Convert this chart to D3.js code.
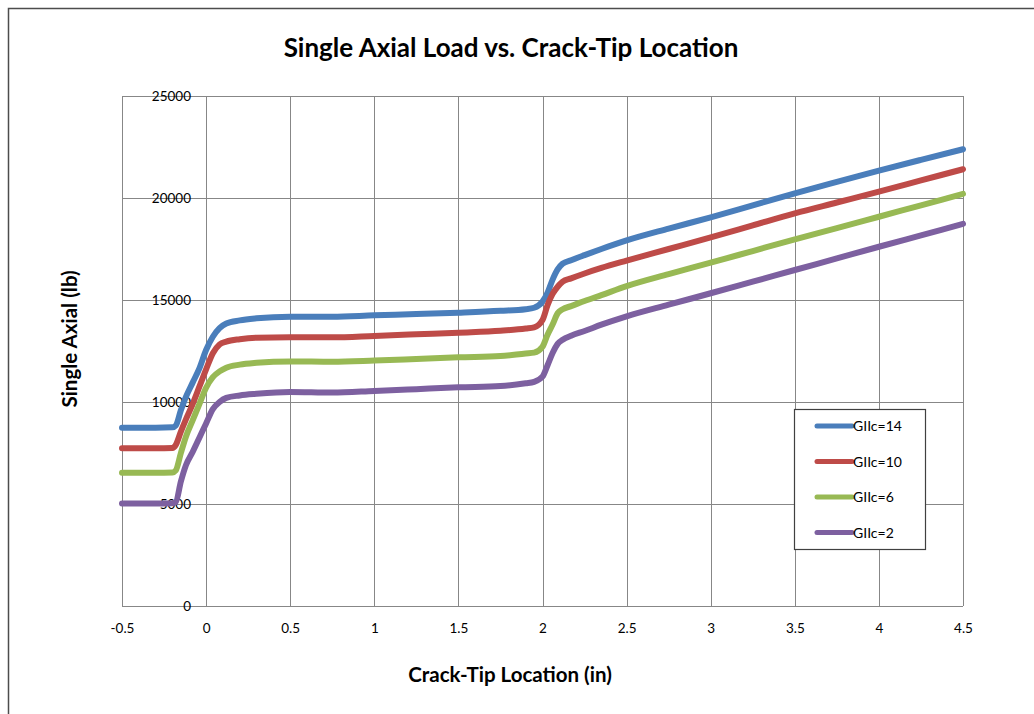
<!DOCTYPE html>
<html>
<head>
<meta charset="utf-8">
<script src="https://cdn.jsdelivr.net/npm/d3@7"></script>
<style>
  body { margin: 0; background: #fff; }
  text { font-family: Lato, "Open Sans", sans-serif; fill: #000; }
</style>
</head>
<body>
<svg id="chart"></svg>
<script>
// crack-tip location (in)
const xs = [-0.5, -0.3, -0.2, -0.18, -0.15, -0.12, -0.08, -0.04, 0, 0.04, 0.08, 0.12, 0.2, 0.3,
            0.5, 0.75, 1, 1.25, 1.5, 1.75, 1.9, 1.95, 2.0, 2.03, 2.06, 2.09, 2.12, 2.17, 2.25, 2.35,
            2.5, 2.75, 3, 3.25, 3.5, 3.75, 4, 4.25, 4.5];

const giic14 = [8740, 8740, 8760, 8850, 9600, 10250, 10950, 11650, 12550, 13200, 13620, 13850, 14000, 14100,
                14180, 14180, 14250, 14310, 14380, 14470, 14550, 14620, 14920, 15350, 16000, 16500, 16780, 16950, 17200, 17500,
                17920, 18500, 19050, 19640, 20230, 20790, 21340, 21870, 22390];
const giic10 = [7730, 7730, 7750, 7900, 8550, 9150, 9900, 10750, 11600, 12390, 12820, 12960, 13080, 13150,
                13170, 13170, 13240, 13320, 13400, 13490, 13600, 13660, 14020, 14750, 15300, 15650, 15900, 16060, 16300, 16570,
                16930, 17500, 18070, 18660, 19250, 19780, 20310, 20860, 21410];
const giic6  = [6530, 6530, 6550, 6650, 7500, 8300, 9100, 9900, 10700, 11220, 11500, 11680, 11830, 11920,
                11990, 11970, 12030, 12110, 12190, 12250, 12380, 12420, 12710, 13300, 13800, 14350, 14550, 14700, 14950, 15240,
                15680, 16270, 16830, 17400, 17970, 18520, 19080, 19640, 20200];
const giic2  = [5030, 5030, 5040, 5100, 6100, 6900, 7550, 8250, 8950, 9650, 10000, 10200, 10320, 10400,
                10490, 10460, 10540, 10630, 10720, 10780, 10920, 10990, 11240, 11800, 12400, 12850, 13050, 13250, 13480, 13790,
                14200, 14770, 15330, 15900, 16470, 17040, 17610, 18170, 18730];

const seriesNames = ["GIIc=14", "GIIc=10", "GIIc=6", "GIIc=2"];
const seriesColors = ["#4a7ebb", "#be4b48", "#98b954", "#7d60a0"];
const xTicks = [-0.5, 0, 0.5, 1, 1.5, 2, 2.5, 3, 3.5, 4, 4.5];
const yTicks = [0, 5000, 10000, 15000, 20000, 25000];

const series = [giic14, giic10, giic6, giic2].map((vals, i) => ({
    name: seriesNames[i],
    color: seriesColors[i],
    values: vals.map((v, j) => ({ x: xs[j], y: v }))
}));

const W = 1034, H = 714;
const margin = { top: 96, right: 71, bottom: 108, left: 122 },
      width = W - margin.left - margin.right,
      height = H - margin.top - margin.bottom;

const root = d3.select("#chart").attr("width", W).attr("height", H);

// outer chart border (only top/left visible in the picture)
root.append("rect")
    .attr("x", 8.5).attr("y", 8.5)
    .attr("width", W + 20).attr("height", H + 20)
    .attr("fill", "none")
    .attr("stroke", "#4d4d4d")
    .attr("stroke-width", 1.5);

const svg = root.append("g")
    .attr("transform", `translate(${margin.left},${margin.top})`);

const xScale = d3.scaleLinear().domain([-0.5, 4.5]).range([0, width]);
const yScale = d3.scaleLinear().domain([0, 25000]).range([height, 0]);

// gridlines
svg.append("g").selectAll("line")
    .data(xTicks)
    .enter().append("line")
    .attr("x1", d => Math.round(xScale(d)) + 0.5)
    .attr("x2", d => Math.round(xScale(d)) + 0.5)
    .attr("y1", 0).attr("y2", height)
    .attr("stroke", "#878787");

svg.append("g").selectAll("line")
    .data(yTicks)
    .enter().append("line")
    .attr("y1", d => Math.round(yScale(d)) + 0.5)
    .attr("y2", d => Math.round(yScale(d)) + 0.5)
    .attr("x1", 0).attr("x2", width)
    .attr("stroke", "#878787");

// axes
const yAxis = svg.append("g")
    .call(d3.axisLeft(yScale).tickValues(yTicks).tickSize(0).tickPadding(-69).tickFormat(d3.format("d")));
yAxis.select(".domain").remove();
yAxis.selectAll("text")
    .style("font-size", "13.5px")
    .style("font-family", "Lato, sans-serif");

const xAxis = svg.append("g")
    .attr("transform", `translate(0,${height})`)
    .call(d3.axisBottom(xScale).tickValues(xTicks).tickSize(0).tickPadding(17).tickFormat(d => d));
xAxis.select(".domain").remove();
xAxis.selectAll("text")
    .style("font-size", "13.5px")
    .style("font-family", "Lato, sans-serif");

// lines
const line = d3.line()
    .x(d => xScale(d.x))
    .y(d => yScale(d.y))
    .curve(d3.curveMonotoneX);

svg.selectAll(".series")
    .data(series)
    .enter().append("path")
    .attr("class", "series")
    .attr("d", d => line(d.values))
    .attr("fill", "none")
    .attr("stroke", d => d.color)
    .attr("stroke-width", 6)
    .attr("stroke-linecap", "round")
    .attr("stroke-linejoin", "round");

// titles
root.append("text")
    .attr("x", 511).attr("y", 57)
    .attr("text-anchor", "middle")
    .style("font-size", "26px")
    .style("font-weight", "bold")
    .text("Single Axial Load vs. Crack-Tip Location");

root.append("text")
    .attr("x", 510).attr("y", 682)
    .attr("text-anchor", "middle")
    .style("font-size", "20.5px")
    .style("font-weight", "bold")
    .text("Crack-Tip Location (in)");

root.append("text")
    .attr("transform", "translate(77,339) rotate(-90)")
    .attr("text-anchor", "middle")
    .style("font-size", "20.5px")
    .style("font-weight", "bold")
    .text("Single Axial (lb)");

// legend
const legend = root.append("g").attr("transform", "translate(794,409)");
legend.append("rect")
    .attr("x", 0.5).attr("y", 0.5)
    .attr("width", 131).attr("height", 140)
    .attr("fill", "#fff")
    .attr("stroke", "#404040")
    .attr("stroke-width", 1.2);

const item = legend.selectAll(".item")
    .data(series)
    .enter().append("g")
    .attr("class", "item")
    .attr("transform", (d, i) => `translate(0,${17 + i * 35.5})`);

item.append("line")
    .attr("x1", 23).attr("x2", 58)
    .attr("stroke", d => d.color)
    .attr("stroke-width", 5)
    .attr("stroke-linecap", "round");

item.append("text")
    .attr("x", 59).attr("y", 5)
    .style("font-size", "14px")
    .text(d => d.name);
</script>
</body>
</html>
